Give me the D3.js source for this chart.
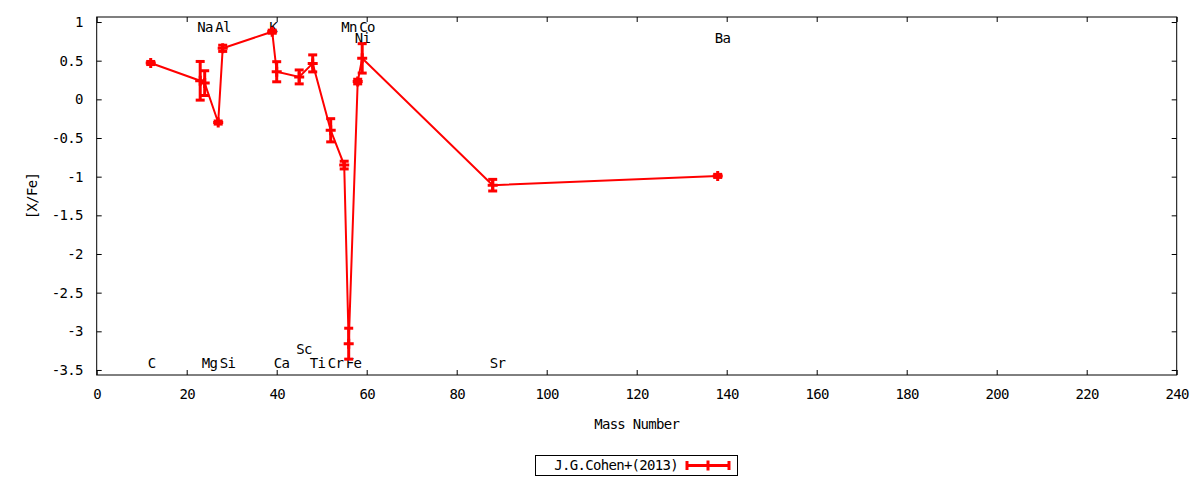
<!DOCTYPE html>
<html lang="en">
<head>
    <meta charset="UTF-8">
    <title>[X/Fe] vs Mass Number</title>
    <script src="https://d3js.org/d3.v7.min.js"></script>
    <style>
        body { margin: 0; background: #fff; }
        text { font-family: "DejaVu Sans Mono", monospace; font-size: 14px; letter-spacing: -0.7px; fill: #000; }
    </style>
</head>
<body>
    <div id="chart"></div>

    <script>
        // values
        const elements = ["C", "Na", "Mg", "Al", "Si", "K", "Ca", "Sc", "Ti", "Cr", "Mn", "Fe", "Ni", "Co", "Sr", "Ba"];
        const massNumbers = [12, 23, 24, 27, 28, 39, 40, 45, 48, 52, 55, 56, 58, 59, 88, 138];
        const abundances = [0.47, 0.24, 0.21, -0.30, 0.66, 0.875, 0.357, 0.29, 0.465, -0.40, -0.85, -3.16, 0.23, 0.53, -1.11, -0.99];
        const errors = [0.02, 0.25, 0.16, 0.02, 0.04, 0.02, 0.13, 0.09, 0.11, 0.15, 0.05, 0.2, 0.03, 0.19, 0.075, 0.02];

        // element name labels placed in the plot
        const labelText = ["Na", "Al", "K", "Mn", "Co", "Ni", "Ba", "C", "Mg", "Si", "Ca", "Sc", "Ti", "Cr", "Fe", "Sr"];
        const labelMass = [23, 27, 39, 55, 59, 58, 138, 12, 24, 28, 40, 45, 48, 52, 56, 88];
        const labelLevel = [0.93, 0.93, 0.93, 0.93, 0.93, 0.79, 0.79, -3.41, -3.41, -3.41, -3.41, -3.23, -3.41, -3.41, -3.41, -3.41];

        const xTicks = d3.range(0, 241, 20);
        const yTicks = [1, 0.5, 0, -0.5, -1, -1.5, -2, -2.5, -3, -3.5];
        const seriesName = "J.G.Cohen+(2013)";

        const W = 1200, H = 480;
        const pl = 96.7, pr = 1176.7, pt = 17, pb = 375;
        const red = "#ff0000";

        const svg = d3.select("#chart").append("svg")
            .attr("width", W).attr("height", H);

        const x = d3.scaleLinear().domain([0, 240]).range([pl, pr]);
        const y = d3.scaleLinear().domain([-3.565, 1.065]).range([pb, pt]);

        // axes, ticks inward, mirrored
        const tk = 5;
        svg.append("g").attr("transform", `translate(0,${pb})`)
            .call(d3.axisBottom(x).tickValues(xTicks).tickSize(-tk).tickPadding(14).tickFormat(d3.format("d")))
            .call(g => g.select(".domain").remove());
        svg.append("g").attr("transform", `translate(0,${pt})`)
            .call(d3.axisTop(x).tickValues(xTicks).tickSize(-tk).tickFormat(""))
            .call(g => g.select(".domain").remove());
        svg.append("g").attr("transform", `translate(${pl},0)`)
            .call(d3.axisLeft(y).tickValues(yTicks).tickSize(-tk).tickPadding(14).tickFormat(d => d))
            .call(g => g.select(".domain").remove());
        svg.append("g").attr("transform", `translate(${pr},0)`)
            .call(d3.axisRight(y).tickValues(yTicks).tickSize(-tk).tickFormat(""))
            .call(g => g.select(".domain").remove());
        svg.selectAll(".tick text")
            .style("font-family", "DejaVu Sans Mono")
            .style("font-size", "14px")
            .style("letter-spacing", "-0.7px");
        svg.selectAll(".tick line").attr("stroke", "#000");

        svg.append("rect")
            .attr("x", pl).attr("y", pt)
            .attr("width", pr - pl).attr("height", pb - pt)
            .attr("fill", "none").attr("stroke", "#000").attr("stroke-width", 1);

        // axis titles
        svg.append("text")
            .attr("x", (pl + pr) / 2).attr("y", 429)
            .attr("text-anchor", "middle")
            .text("Mass Number");
        svg.append("text")
            .attr("transform", `translate(37,${(pt + pb) / 2}) rotate(-90)`)
            .attr("text-anchor", "middle")
            .text("[X/Fe]");

        // element labels
        svg.selectAll(".elabel")
            .data(labelText)
            .enter().append("text")
            .attr("class", "elabel")
            .attr("x", (d, i) => x(labelMass[i]) - 3)
            .attr("y", (d, i) => y(labelLevel[i]))
            .attr("dy", "0.35em")
            .text(d => d);

        const pts = elements.map((e, i) => ({ m: massNumbers[i], v: abundances[i], err: errors[i] }));

        // connecting line
        const line = d3.line().x(d => x(d.m)).y(d => y(d.v));
        svg.append("path")
            .datum(pts)
            .attr("d", line)
            .attr("fill", "none")
            .attr("stroke", red)
            .attr("stroke-width", 2);

        // error bars with caps
        const cap = 4.5;
        const eb = svg.append("g").attr("stroke", red).attr("stroke-width", 3);
        pts.forEach(d => {
            const cx = x(d.m), y1 = y(d.v + d.err), y2 = y(d.v - d.err);
            eb.append("line").attr("x1", cx).attr("x2", cx).attr("y1", y1).attr("y2", y2);
            eb.append("line").attr("x1", cx - cap).attr("x2", cx + cap).attr("y1", y1).attr("y2", y1);
            eb.append("line").attr("x1", cx - cap).attr("x2", cx + cap).attr("y1", y2).attr("y2", y2);
        });

        // plus markers
        const arm = 5;
        svg.append("g").selectAll("path")
            .data(pts)
            .enter().append("path")
            .attr("d", d => {
                const cx = x(d.m), cy = y(d.v);
                return `M${cx - arm},${cy}H${cx + arm}M${cx},${cy - arm}V${cy + arm}`;
            })
            .attr("stroke", red)
            .attr("stroke-width", 3)
            .attr("fill", "none");

        // legend
        const lg = svg.append("g");
        lg.append("rect")
            .attr("x", 535.5).attr("y", 455.5)
            .attr("width", 202).attr("height", 20)
            .attr("fill", "none").attr("stroke", "#000").attr("stroke-width", 1);
        lg.append("text")
            .attr("x", 678).attr("y", 465.5)
            .attr("dy", "0.35em")
            .attr("text-anchor", "end")
            .text(seriesName);
        const lx1 = 687, lx2 = 729, ly = 465.5;
        lg.append("line").attr("x1", lx1).attr("x2", lx2).attr("y1", ly).attr("y2", ly)
            .attr("stroke", red).attr("stroke-width", 3);
        [lx1, lx2].forEach(px => {
            lg.append("line").attr("x1", px).attr("x2", px).attr("y1", ly - cap).attr("y2", ly + cap)
                .attr("stroke", red).attr("stroke-width", 3);
        });
        lg.append("path")
            .attr("d", `M${(lx1 + lx2) / 2 - arm},${ly}H${(lx1 + lx2) / 2 + arm}M${(lx1 + lx2) / 2},${ly - arm}V${ly + arm}`)
            .attr("stroke", red).attr("stroke-width", 3);
    </script>
</body>
</html>
